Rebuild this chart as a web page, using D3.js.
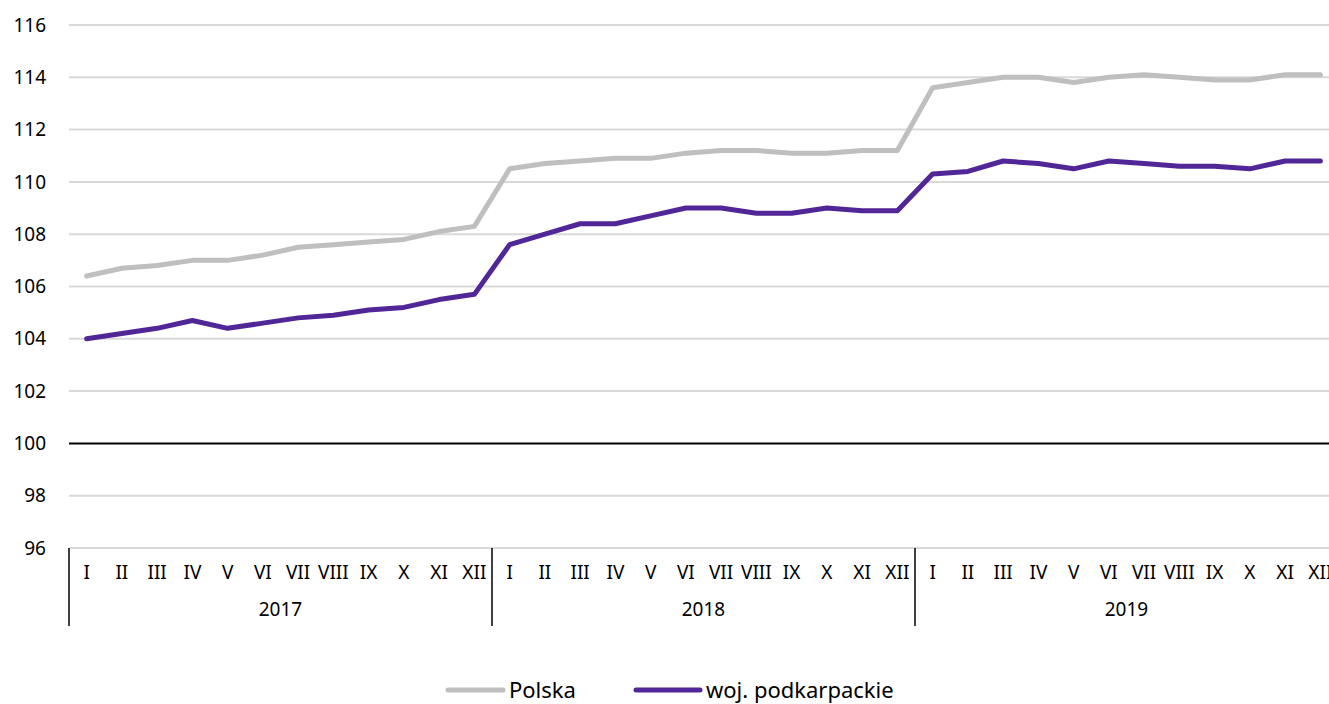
<!DOCTYPE html>
<html>
<head>
<meta charset="utf-8">
<script src="https://cdn.jsdelivr.net/npm/d3@7.9.0/dist/d3.min.js"></script>
<style>
  html, body { margin: 0; padding: 0; background: #fff; }
  svg { display: block; font-family: "Noto Sans", "Open Sans", sans-serif; }
</style>
</head>
<body>
<svg id="chart" width="1329" height="704"></svg>
<script>
const years = ['2017', '2018', '2019'];
const months = ['I', 'II', 'III', 'IV', 'V', 'VI', 'VII', 'VIII', 'IX', 'X', 'XI', 'XII'];
const yTicks = [96, 98, 100, 102, 104, 106, 108, 110, 112, 114, 116];

const polska = [
  106.4, 106.7, 106.8, 107.0, 107.0, 107.2, 107.5, 107.6, 107.7, 107.8, 108.1, 108.3,
  110.5, 110.7, 110.8, 110.9, 110.9, 111.1, 111.2, 111.2, 111.1, 111.1, 111.2, 111.2,
  113.6, 113.8, 114.0, 114.0, 113.8, 114.0, 114.1, 114.0, 113.9, 113.9, 114.1, 114.1
];
const podkarpackie = [
  104.0, 104.2, 104.4, 104.7, 104.4, 104.6, 104.8, 104.9, 105.1, 105.2, 105.5, 105.7,
  107.6, 108.0, 108.4, 108.4, 108.7, 109.0, 109.0, 108.8, 108.8, 109.0, 108.9, 108.9,
  110.3, 110.4, 110.8, 110.7, 110.5, 110.8, 110.7, 110.6, 110.6, 110.5, 110.8, 110.8
];

const series = [
  { name: 'Polska', values: polska, color: '#bfbfbf' },
  { name: 'woj. podkarpackie', values: podkarpackie, color: '#512697' }
];

const keys = years.flatMap(y => months.map(m => `${y}-${m}`));

const plotLeft = 69, plotRight = 1338, plotTop = 25, plotBottom = 548;
const svg = d3.select('#chart');

const x = d3.scaleBand().domain(keys).range([plotLeft, plotRight]);
const xYear = d3.scaleBand().domain(years).range([plotLeft, plotRight]);
const y = d3.scaleLinear().domain([96, 116]).range([plotBottom, plotTop]);

// grid
svg.append('g')
  .selectAll('line')
  .data(yTicks)
  .join('line')
  .attr('x1', plotLeft).attr('x2', 1329)
  .attr('y1', d => y(d)).attr('y2', d => y(d))
  .attr('stroke', d => d === 100 ? '#000' : '#d9d9d9')
  .attr('stroke-width', 2);

// y labels
svg.append('g')
  .selectAll('text')
  .data(yTicks)
  .join('text')
  .attr('x', 46)
  .attr('y', d => y(d))
  .attr('dy', '0.35em')
  .attr('text-anchor', 'end')
  .attr('font-size', 19)
  .attr('fill', '#000')
  .text(d => d);

// x axis: month labels and year groups
const xa = svg.append('g');
xa.selectAll('text.m')
  .data(keys)
  .join('text')
  .attr('class', 'm')
  .attr('x', d => x(d) + x.bandwidth() / 2)
  .attr('y', 572)
  .attr('dy', '0.35em')
  .attr('text-anchor', 'middle')
  .attr('font-size', 19)
  .text(d => d.split('-')[1]);

xa.selectAll('text.y')
  .data(years)
  .join('text')
  .attr('class', 'y')
  .attr('x', d => xYear(d) + xYear.bandwidth() / 2)
  .attr('y', 609)
  .attr('dy', '0.35em')
  .attr('text-anchor', 'middle')
  .attr('font-size', 19)
  .text(d => d);

xa.selectAll('line')
  .data(years)
  .join('line')
  .attr('x1', d => xYear(d)).attr('x2', d => xYear(d))
  .attr('y1', plotBottom).attr('y2', 626)
  .attr('stroke', '#000')
  .attr('stroke-width', 1.5);

// lines
const line = d3.line()
  .x((d, i) => x(keys[i]) + x.bandwidth() / 2)
  .y(d => y(d));

svg.append('g')
  .selectAll('path')
  .data(series)
  .join('path')
  .attr('d', d => line(d.values))
  .attr('fill', 'none')
  .attr('stroke', d => d.color)
  .attr('stroke-width', 5)
  .attr('stroke-linecap', 'round')
  .attr('stroke-linejoin', 'round');

// legend
const legendX = [448, 636];
const legendW = [55, 64];
const lg = svg.append('g')
  .selectAll('g')
  .data(series)
  .join('g')
  .attr('transform', (d, i) => `translate(${legendX[i]}, 690)`);
lg.append('line')
  .attr('x1', 0).attr('x2', (d, i) => legendW[i])
  .attr('stroke', d => d.color)
  .attr('stroke-width', 5)
  .attr('stroke-linecap', 'round');
lg.append('text')
  .attr('x', (d, i) => legendW[i] + 6)
  .attr('dy', '0.35em')
  .attr('font-size', 22)
  .text(d => d.name);
</script>
</body>
</html>
